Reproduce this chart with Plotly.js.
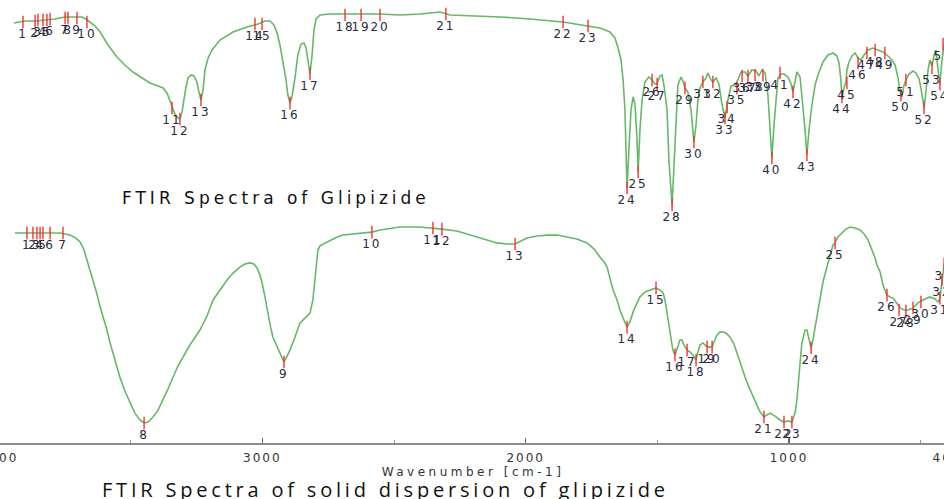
<!DOCTYPE html>
<html>
<head>
<meta charset="utf-8">
<script src="https://cdn.plot.ly/plotly-3.0.1.min.js"></script>
<style>
html,body{margin:0;padding:0;overflow:hidden;background:#fff;width:944px;height:499px;}
#chart{position:absolute;left:-1px;top:0;width:948px;height:499px;}
</style>
</head>
<body>
<div id="chart"></div>
<script>
// ---- FTIR spectrum of glipizide (top) ----
const topWavenumber = [3943,3901,3863,3825,3787,3749,3711,3685,3670,3654,3635,3616,
3586,3552,3522,3491,3457,3427,3396,3377,3362,3351,3343,3332,3320,3313,3305,3298,3290,3282,3271,3260,3248,3241,3233,3225,3218,3206,3191,
3161,3111,3058,3016,2990,2971,2956,2944,2933,2922,2910,2903,2895,2887,2876,2865,2853,2842,2834,2827,2819,2811,2804,2796,2781,
2743,2686,2553,2477,2401,2325,2310,2287,2097,1984,1858,1763,1718,1680,
1661,1649,1638,1630,1623,1619,1615,1608,1600,1592,1585,1577,1573,1566,1558,1547,1532,1520,1509,1501,1490,1482,1475,1463,1456,1444,1437,1429,1422,1410,1403,1395,1384,1372,1361,1353,1346,1338,
1327,1315,1308,1296,1289,1277,1266,1254,1243,1232,1220,1205,1194,1182,1167,1156,1141,1125,1114,1103,1091,1080,1072,1065,1057,1049,1042,1030,1019,1004,992,985,977,970,958,
951,939,932,924,913,901,890,871,852,833,818,810,803,799,791,784,780,772,761,749,738,727,715,700,681,662,643,624,609,597,586,578,
571,563,556,544,529,518,506,499,491,487,480,472,465,457,449,442,434,427,419,411,400];
const topTransmittance = [93.5,94.5,94.5,95,95.5,96.5,96.5,96.5,95.5,94,92,89,
82.5,76.5,72.5,69,66,63.5,62,61,58.5,54.5,51,48,46,45.5,49,55,61.5,66,67.5,67,64,59,55,60,70,76,80,
85,89,91.5,93,94.5,94.5,92.5,88.5,82.5,75,65,57.5,53.5,57,66,77.5,83,83.5,81,75,68,77.5,90,95.5,97.5,
98,98,98,97.5,98,99,98.5,97.5,96.5,95.5,94,92,91,89,
86,81,75,65,50,30,11,30,50,56.5,53,35,19,40,55,64,66.5,65,63,63,67,67.5,62.5,50,25,2.5,20,45,62.5,66.5,64.5,61,59,50,34,42.5,55,61,
64,66,68.5,65,64,66,63,52.5,46,55,62,62.5,65,69,69,67,70,69.5,67,70,68.5,57.5,42.5,26,42.5,57.5,66,68,68,66.5,63,59,65,69,66.5,
57.5,40,27.5,40,52.5,62.5,67.5,74,77.5,78.5,77,73.5,65,56.5,61,64,70,74,77,78.5,76,75,77.5,80,81,80,79,77,75,72.5,66,59,
56.5,62.5,65,68,69.5,68.5,65.5,61,55,51,59,70,75,72,77.5,80,70,63,75,82.5,84];
const topPeakWavenumber = [3909,3863,3852,3833,3818,3806,3749,3738,3704,3666,3343,3313,3233,3028,3001,2895,2819,2686,2625,2553,2303,1858,1763,1615,1573,1520,1501,1444,1395,1361,1327,1289,1243,1235,1198,1178,1156,1129,1099,1065,1034,985,932,799,780,738,704,673,636,575,556,487,457,427,415];
const topPeakT = [94,94.5,95,95,95,95.5,96,96,96,94,51,45.5,55,93,93,53.5,68,97.5,97.5,97.5,98,94,92,11,19,65,63,2.5,61,34,64,64,46,51.5,61,67,67,67.5,67.5,26,68.5,59,27.5,56.5,63.5,73.5,78.5,80,78.5,57.5,65,51,71,63,83];
const topPeakLabels = ["1","2","3","4","5","6","7","8","9","10","11","12","13","14","15","16","17","18","19","20","21","22","23","24","25","26","27","28","29","30","31","32","33","34","35","36","37","38","39","40","41","42","43","44","45","46","47","48","49","50","51","52","53","54","55"];

// ---- FTIR spectrum of solid dispersion of glipizide (bottom) ----
const botWavenumber = [3939,3882,3806,3768,3730,3708,3692,3677,3666,3654,3643,3628,3616,3601,3590,3579,3567,3552,3541,3522,3503,3484,
3465,3449,3434,3415,3396,3377,3358,3339,3320,3301,3275,3237,3210,3187,3161,3134,3111,3085,3066,3047,
3032,3020,3009,3001,2990,2982,2971,2960,2944,2933,2918,2906,2895,2876,2857,2838,2819,2808,2800,2792,2789,2781,
2754,2724,2694,2648,2610,2584,2553,2527,2477,2401,2352,2318,2261,2223,2185,2147,2109,2071,2040,2018,1995,1957,1919,1881,1843,1805,1767,1740,1718,
1702,1691,1680,1668,1653,1642,1627,1615,1604,1592,1577,1566,1547,1528,1505,1490,1478,1471,1459,1448,1441,1433,1422,1414,1406,1399,1387,1376,1365,1353,1346,1338,
1327,1315,1304,1292,1285,1273,1262,1254,1239,1224,1209,1198,1182,1167,1152,1137,1122,1110,1095,1084,1072,1053,1034,1019,1004,989,977,970,962,958,
951,939,932,924,916,909,901,890,882,871,856,844,833,825,814,799,784,768,749,730,715,700,685,673,666,654,643,635,628,616,605,594,578,563,548,529,510,491,465,446,434,427,419,411,400];
const botTransmittance = [91.3,91.3,91.3,91.3,90.4,89.1,87.4,83.9,79.6,75.2,70.9,64.8,59.1,53.5,49.1,43.9,39.1,33.5,28.7,22.6,17.4,13.0,
10.0,8.7,9.1,11.3,14.3,18.7,23.5,28.7,33.5,37.4,42.6,49.1,55.2,62.2,66.5,70.9,73.9,76.5,77.8,78.3,
77.8,76.1,73.0,69.6,63.5,57.8,51.7,46.1,42.2,39.1,35.2,37.8,40.4,46.1,52.2,54.3,56.5,62.2,72.2,79.6,83.9,85.7,
87.4,89.1,90.4,90.9,91.3,91.7,92.6,93.0,93.9,93.9,93.5,93.0,92.2,90.9,89.6,88.3,87.0,86.5,86.5,87.8,89.1,90.0,90.4,90.4,89.6,88.7,87.0,84.3,80.9,
78.7,76.5,72.2,66.5,62.2,57.8,53.5,50.4,52.6,57.0,60.9,63.5,65.7,66.5,67.4,66.5,65.2,62.2,53.5,45.7,40.4,38.3,42.2,44.8,44.8,42.6,40.4,39.6,38.3,36.1,39.6,42.6,
43.5,42.2,41.7,41.7,43.9,47.0,48.3,48.3,47.8,46.1,43.0,39.1,33.9,28.7,24.3,20.0,16.5,13.5,11.3,12.2,13.0,11.7,10.0,9.1,9.6,9.1,13.0,18.7,27.4,34.8,
43.5,49.1,49.1,45.7,41.3,44.8,50.4,57.8,63.5,70.0,76.5,81.7,86.1,87.0,89.6,91.3,93.0,93.9,93.5,92.6,90.9,88.3,83.9,80.4,77.4,74.3,68.7,66.5,64.3,63.5,63.0,61.3,58.7,57.8,57.8,58.7,60.9,62.2,63.5,62.6,61.3,63.0,69.6,77.4,81.7];
const botPeakWavenumber = [3894,3871,3856,3844,3833,3806,3757,3449,2918,2584,2352,2318,2040,1615,1505,1433,1387,1353,1311,1292,1095,1019,989,916,825,628,582,556,529,499,427,419,411];
const botPeakT = [91.3,91.3,91.3,91.3,91.3,91.3,91.3,8.7,35.2,91.7,93.5,93.0,86.5,50.4,67.4,38.3,40.4,36.1,41.7,41.7,11.3,9.1,9.1,41.3,87.0,64.3,57.8,57.4,58.7,61.3,63.0,70.9,77.8];
const botPeakLabels = ["1","2","3","4","5","6","7","8","9","10","11","12","13","14","15","16","17","18","19","20","21","22","23","24","25","26","27","28","29","30","31","32","33"];

// axis ticks
const majorTicks = [4000,3000,2000,1000,400];
const majorTickText = ["4000","3000","2000","1000","400"];
const minorTicks = [3500,2500,1500,500];

const wide = (s, px) => '<span style="letter-spacing:' + px + 'px">' + s + '</span>';

const lineColor = '#66b866';
const peakColor = 'rgba(245,45,45,0.85)';
const dejavu = 'DejaVu Sans, Verdana, sans-serif';
const labelFont = {family: dejavu, size:12, color:'#2a2a3a'};

const traces = [
  {x: topWavenumber, y: topTransmittance, xaxis:'x', yaxis:'y', type:'scatter', mode:'lines',
   line:{color:lineColor, width:1.6}, hoverinfo:'skip'},
  {x: topPeakWavenumber, y: topPeakT, text: topPeakLabels.map(s => wide(s, 2)), xaxis:'x', yaxis:'y', type:'scatter', mode:'markers+text',
   marker:{symbol:'line-ns', size:9, color:peakColor, line:{color:peakColor, width:1.6}},
   textposition:'bottom center', textfont: labelFont, cliponaxis:false, hoverinfo:'skip'},
  {x: botWavenumber, y: botTransmittance, xaxis:'x', yaxis:'y2', type:'scatter', mode:'lines',
   line:{color:lineColor, width:1.6}, hoverinfo:'skip'},
  {x: botPeakWavenumber, y: botPeakT, text: botPeakLabels.map(s => wide(s, 2)), xaxis:'x', yaxis:'y2', type:'scatter', mode:'markers+text',
   marker:{symbol:'line-ns', size:9, color:peakColor, line:{color:peakColor, width:1.6}},
   textposition:'bottom center', textfont: labelFont, cliponaxis:false, hoverinfo:'skip'}
];

const layout = {
  width: 948, height: 499,
  margin: {l:0, r:0, t:0, b:56, pad:0},
  paper_bgcolor:'#ffffff', plot_bgcolor:'rgba(0,0,0,0)',
  showlegend:false,
  xaxis: {
    range:[4000,400], anchor:'y2', showgrid:false, zeroline:false,
    showline:true, linecolor:'#8c8c8c', linewidth:1.5,
    ticks:'inside', ticklen:5, tickwidth:1.2, tickcolor:'#666',
    tickmode:'array', tickvals: majorTicks, ticktext: majorTickText.map(s => wide(s, 2)),
    ticklabeloverflow:'allow', ticklabelstandoff:3,
    minor:{tickmode:'array', tickvals: minorTicks, ticks:'inside', ticklen:3, tickcolor:'#999', tickwidth:1},
    tickfont:{family: dejavu, size:12, color:'#333'},
    title:{text: wide('Wavenumber [cm-1]', 3.5), font:{family: dejavu, size:12, color:'#333'}, standoff:0}
  },
  yaxis: {domain:[0.50339,0.97743], range:[-5,100], visible:false, fixedrange:true},
  yaxis2: {domain:[0,0.51919], range:[0,100], visible:false, fixedrange:true},
  annotations: [
    {text: wide('FTIR Spectra of Glipizide', 4), xref:'paper', yref:'paper', x:0.1276, y:0.553, xanchor:'left', yanchor:'middle',
     showarrow:false, font:{family: dejavu, size:17, color:'#111'}},
    {text: wide('FTIR Spectra of solid dispersion of glipizide', 3.8), xref:'paper', yref:'paper', x:0.1065, y:-0.1050, xanchor:'left', yanchor:'middle',
     showarrow:false, font:{family:'Open Sans, sans-serif', size:20, color:'#111'}}
  ]
};

Plotly.newPlot('chart', traces, layout, {staticPlot:true, displayModeBar:false});
</script>
</body>
</html>
